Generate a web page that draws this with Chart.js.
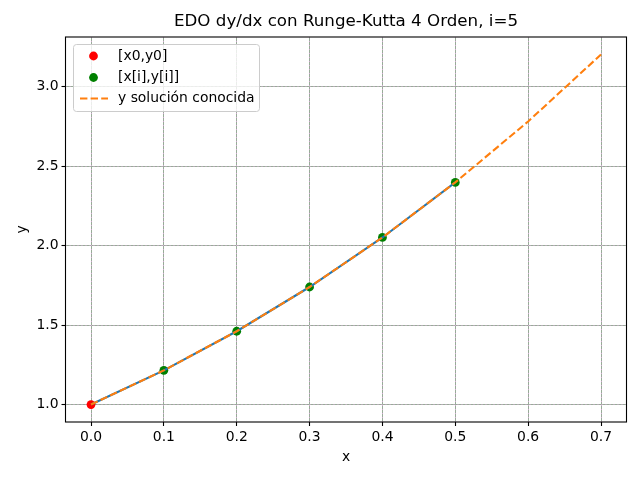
<!DOCTYPE html>
<html><head><meta charset="utf-8">
<script src="https://cdn.jsdelivr.net/npm/chart.js@4"></script>
<style>html,body{margin:0;padding:0;background:#fff}#wrap{width:640px;height:480px}</style>
</head><body><div id="wrap"><canvas id="c" width="640" height="480"></canvas></div>
<script>
const titleText = "EDO dy/dx con Runge-Kutta 4 Orden, i=5";
const legendLabels = ["[x0,y0]", "[x[i],y[i]]", "y solución conocida"];
const x0 = [0.0];
const y0 = [1.0];
const xi = [0.1, 0.2, 0.3, 0.4, 0.5];
const yi = [1.2152, 1.4614, 1.7399, 2.0518, 2.3987];
const rkX = [0.0, 0.1, 0.2, 0.3, 0.4, 0.5];
const rkY = [1.0, 1.2152, 1.4614, 1.7399, 2.0518, 2.3987];
const solX = [0.0, 0.1, 0.2, 0.3, 0.4, 0.5, 0.6, 0.7];
const solY = [1.0, 1.2152, 1.4614, 1.7399, 2.0518, 2.3987, 2.7821, 3.2038];
const xTicks = [0.0, 0.1, 0.2, 0.3, 0.4, 0.5, 0.6, 0.7];
const yTicks = [1.0, 1.5, 2.0, 2.5, 3.0];

const pts = (xs, ys) => xs.map((x, k) => ({x: x, y: ys[k]}));
const FONT = 'DejaVu Sans';
const GRID = '#98ac98';

const gridDots = {
  id: 'gridDots',
  beforeDatasetsDraw(chart) {
    const ctx = chart.ctx, a = chart.chartArea;
    const xs = chart.scales.x, ys = chart.scales.y;
    const al = p => Math.round(p - 0.5) + 0.5;
    ctx.save();
    ctx.strokeStyle = 'rgba(230,165,230,0.75)'; ctx.lineWidth = 1; ctx.setLineDash([1, 3]);
    xTicks.forEach(v => {
      const p = al(xs.getPixelForValue(v));
      ctx.beginPath(); ctx.moveTo(p, a.top); ctx.lineTo(p, a.bottom); ctx.stroke();
    });
    yTicks.forEach(v => {
      const p = al(ys.getPixelForValue(v));
      ctx.beginPath(); ctx.moveTo(a.left, p); ctx.lineTo(a.right, p); ctx.stroke();
    });
    ctx.restore();
  }
};

const overlay = {
  id: 'overlay',
  afterDraw(chart) {
    const ctx = chart.ctx, a = chart.chartArea;
    ctx.save();
    ctx.strokeStyle = '#000'; ctx.lineWidth = 1.1; ctx.setLineDash([]);
    ctx.strokeRect(a.left, a.top, a.right - a.left, a.bottom - a.top);
    ctx.fillStyle = '#000';
    ctx.font = '16.7px "' + FONT + '"';
    ctx.textAlign = 'center'; ctx.textBaseline = 'middle';
    ctx.fillText(titleText, (a.left + a.right) / 2, 22);
    const lx = 73.5, ly = 44.5, lw = 186, lh = 67, r = 3;
    ctx.beginPath();
    ctx.moveTo(lx + r, ly); ctx.lineTo(lx + lw - r, ly); ctx.arcTo(lx + lw, ly, lx + lw, ly + r, r);
    ctx.lineTo(lx + lw, ly + lh - r); ctx.arcTo(lx + lw, ly + lh, lx + lw - r, ly + lh, r);
    ctx.lineTo(lx + r, ly + lh); ctx.arcTo(lx, ly + lh, lx, ly + lh - r, r);
    ctx.lineTo(lx, ly + r); ctx.arcTo(lx, ly, lx + r, ly, r); ctx.closePath();
    ctx.fillStyle = 'rgba(255,255,255,0.8)'; ctx.fill();
    ctx.strokeStyle = '#cccccc'; ctx.lineWidth = 1; ctx.stroke();
    const rows = [56, 77.5, 98.5];
    ctx.fillStyle = '#ff0000';
    ctx.beginPath(); ctx.arc(93.5, rows[0], 4.4, 0, Math.PI * 2); ctx.fill();
    ctx.fillStyle = '#008000';
    ctx.beginPath(); ctx.arc(93.5, rows[1], 4.4, 0, Math.PI * 2); ctx.fill();
    ctx.strokeStyle = '#ff7f0e'; ctx.lineWidth = 2.08; ctx.setLineDash([7.4, 3.2]);
    ctx.beginPath(); ctx.moveTo(80, rows[2]); ctx.lineTo(108, rows[2]); ctx.stroke();
    ctx.setLineDash([]);
    ctx.fillStyle = '#000';
    ctx.font = '13.9px "' + FONT + '"';
    ctx.textAlign = 'left'; ctx.textBaseline = 'middle';
    legendLabels.forEach((t, k) => ctx.fillText(t, 118, rows[k]));
    ctx.restore();
  }
};

new Chart(document.getElementById('c'), {
  type: 'scatter',
  data: {
    datasets: [
      {label: legendLabels[0], data: pts(x0, y0), showLine: false, pointRadius: 4.4, pointHoverRadius: 4.4,
       pointBackgroundColor: '#ff0000', pointBorderWidth: 0, order: 4},
      {label: legendLabels[1], data: pts(xi, yi), showLine: false, pointRadius: 4.4, pointHoverRadius: 4.4,
       pointBackgroundColor: '#008000', pointBorderWidth: 0, order: 3},
      {label: 'rk4', data: pts(rkX, rkY), showLine: true, pointRadius: 0, borderColor: '#1f77b4',
       borderWidth: 2.08, tension: 0, order: 2},
      {label: legendLabels[2], data: pts(solX, solY), showLine: true, pointRadius: 0, borderColor: '#ff7f0e',
       borderWidth: 2.08, borderDash: [7.4, 3.2], tension: 0, order: 1}
    ]
  },
  options: {
    responsive: false, devicePixelRatio: 1, animation: false,
    layout: {padding: {top: 37, right: 13.5, left: 0, bottom: 0}},
    plugins: {legend: {display: false}, title: {display: false}, tooltip: {enabled: false}},
    scales: {
      x: {
        type: 'linear', min: -0.035, max: 0.735,
        afterBuildTicks: s => { s.ticks = xTicks.map(v => ({value: v})); },
        afterFit: s => { s.height = 58; },
        ticks: {callback: v => Number(v).toFixed(1), color: '#000', font: {family: FONT, size: 13.9},
                padding: 3, maxRotation: 0, autoSkip: false},
        grid: {color: GRID, lineWidth: 1, tickColor: '#000', tickLength: 4, tickWidth: 1.1},
        border: {display: false},
        title: {display: true, text: 'x', color: '#000', font: {family: FONT, size: 13.9},
                padding: {top: 0, bottom: 14.7}}
      },
      y: {
        type: 'linear', min: 0.89, max: 3.314,
        afterBuildTicks: s => { s.ticks = yTicks.map(v => ({value: v})); },
        afterFit: s => { s.width = 65.5; },
        ticks: {callback: v => Number(v).toFixed(1), color: '#000', font: {family: FONT, size: 13.9},
                padding: 3, autoSkip: false},
        grid: {color: GRID, lineWidth: 1, tickColor: '#000', tickLength: 4, tickWidth: 1.1},
        border: {display: false},
        title: {display: true, text: 'y', color: '#000', font: {family: FONT, size: 13.9},
                padding: {top: 13.7, bottom: 0}}
      }
    }
  },
  plugins: [gridDots, overlay]
});
</script>
</body></html>
